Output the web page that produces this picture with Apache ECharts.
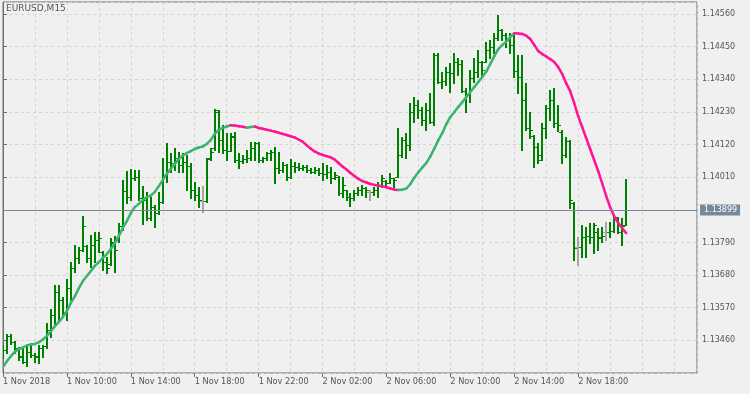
<!DOCTYPE html>
<html><head><meta charset="utf-8">
<script src="https://cdn.jsdelivr.net/npm/echarts@6/dist/echarts.min.js"></script>
<style>html,body{margin:0;padding:0;background:#f0f0f0}#c{width:750px;height:394px}</style>
</head><body><div id="c"></div>
<script>
const symbolName = 'EURUSD,M15';
// x positions are bar indices (15-minute bars starting 1 Nov 2018 06:00)
const tickIndex = [0, 16, 32, 48, 64, 80, 96, 112, 128, 144];
const tickLabels = ['1 Nov 2018', '1 Nov 10:00', '1 Nov 14:00', '1 Nov 18:00', '1 Nov 22:00',
  '2 Nov 02:00', '2 Nov 06:00', '2 Nov 10:00', '2 Nov 14:00', '2 Nov 18:00'];

const openP = [
1.13410,1.13427,1.13475,1.13454,1.13431,1.13407,1.13387,1.13421,1.13411,1.13404,
1.13434,1.13441,1.13495,1.13545,1.13623,1.13596,1.13556,1.13636,1.13704,1.13738,
1.13765,1.13778,1.13738,1.13781,1.13798,1.13758,1.13724,1.13717,1.13788,1.13798,
1.13845,1.13963,1.13943,1.14007,1.14011,1.13940,1.13933,1.13872,1.13909,1.13889,
1.13926,1.14017,1.14061,1.14058,1.14075,1.14051,1.14061,1.14048,1.13967,1.13950,
1.13930,1.13930,1.14075,1.14108,1.14230,1.14135,1.14102,1.14098,1.14145,1.14068,
1.14064,1.14071,1.14075,1.14108,1.14125,1.14068,1.14075,1.14091,1.14095,1.14041,
1.14034,1.14051,1.14011,1.14048,1.14044,1.14041,1.14044,1.14034,1.14027,1.14034,
1.14024,1.14021,1.14027,1.14007,1.14011,1.13957,1.13967,1.13943,1.13940,1.13957,
1.13967,1.13973,1.13960,1.13960,1.13967,1.13984,1.13997,1.13990,1.14007,1.14010,
1.14085,1.14135,1.14118,1.14230,1.14253,1.14236,1.14203,1.14236,1.14196,1.14422,
1.14331,1.14334,1.14365,1.14361,1.14398,1.14392,1.14300,1.14287,1.14344,1.14365,
1.14398,1.14398,1.14439,1.14449,1.14479,1.14506,1.14489,1.14472,1.14456,1.14368,
1.14348,1.14270,1.14176,1.14149,1.14112,1.14085,1.14176,1.14243,1.14270,1.14193,
1.14162,1.14085,1.14132,1.13923,1.13775,1.13775,1.13808,1.13812,1.13808,1.13825,
1.13808,1.13825,1.13825,1.13829,1.13876,1.13849,1.13849];

const highP = [
1.13444,1.13481,1.13481,1.13458,1.13438,1.13434,1.13441,1.13451,1.13417,1.13444,
1.13444,1.13518,1.13566,1.13646,1.13646,1.13606,1.13667,1.13724,1.13781,1.13775,
1.13879,1.13781,1.13815,1.13825,1.13825,1.13761,1.13741,1.13805,1.13812,1.13855,
1.14000,1.14031,1.14038,1.14034,1.14034,1.13980,1.13960,1.13943,1.13916,1.13960,
1.14075,1.14125,1.14091,1.14108,1.14095,1.14091,1.14085,1.14058,1.13994,1.13977,
1.13980,1.14075,1.14108,1.14240,1.14236,1.14186,1.14159,1.14159,1.14162,1.14091,
1.14085,1.14102,1.14129,1.14129,1.14128,1.14078,1.14095,1.14102,1.14112,1.14095,
1.14061,1.14054,1.14071,1.14061,1.14058,1.14051,1.14051,1.14041,1.14044,1.14041,
1.14058,1.14051,1.14044,1.14027,1.14014,1.14011,1.13967,1.13957,1.13967,1.13977,
1.13984,1.13977,1.13967,1.13977,1.13994,1.14017,1.14000,1.14024,1.14007,1.14176,
1.14145,1.14159,1.14260,1.14280,1.14270,1.14247,1.14260,1.14294,1.14429,1.14429,
1.14365,1.14381,1.14395,1.14429,1.14412,1.14405,1.14311,1.14371,1.14412,1.14439,
1.14402,1.14466,1.14472,1.14496,1.14557,1.14509,1.14496,1.14496,1.14496,1.14422,
1.14422,1.14327,1.14230,1.14152,1.14125,1.14193,1.14253,1.14304,1.14311,1.14253,
1.14169,1.14145,1.14135,1.13926,1.13808,1.13849,1.13842,1.13855,1.13855,1.13839,
1.13842,1.13859,1.13859,1.13882,1.13876,1.13872,1.14004];

const lowP = [
1.13400,1.13417,1.13448,1.13417,1.13394,1.13384,1.13373,1.13404,1.13387,1.13384,
1.13404,1.13434,1.13471,1.13512,1.13522,1.13545,1.13528,1.13596,1.13690,1.13721,
1.13761,1.13724,1.13707,1.13724,1.13758,1.13697,1.13687,1.13714,1.13690,1.13792,
1.13832,1.13923,1.13933,1.14000,1.13933,1.13852,1.13866,1.13866,1.13842,1.13886,
1.13923,1.13994,1.14027,1.14034,1.14027,1.14027,1.13967,1.13940,1.13933,1.13909,
1.13893,1.13926,1.14068,1.14102,1.14095,1.14091,1.14068,1.14098,1.14061,1.14041,
1.14058,1.14061,1.14068,1.14068,1.14061,1.14061,1.14068,1.14068,1.13990,1.14024,
1.14027,1.14000,1.14007,1.14027,1.14034,1.14034,1.14027,1.14024,1.14024,1.14017,
1.14000,1.14007,1.13990,1.14004,1.13950,1.13943,1.13933,1.13913,1.13933,1.13950,
1.13950,1.13943,1.13933,1.13950,1.13943,1.13977,1.13977,1.13990,1.13977,1.14010,
1.14078,1.14075,1.14102,1.14196,1.14209,1.14186,1.14169,1.14193,1.14186,1.14327,
1.14311,1.14321,1.14297,1.14327,1.14354,1.14297,1.14230,1.14263,1.14331,1.14348,
1.14348,1.14398,1.14412,1.14429,1.14472,1.14472,1.14449,1.14429,1.14348,1.14294,
1.14102,1.14169,1.14142,1.14044,1.14058,1.14068,1.14142,1.14203,1.14179,1.14166,
1.14058,1.14078,1.13906,1.13731,1.13714,1.13741,1.13741,1.13788,1.13754,1.13765,
1.13792,1.13798,1.13808,1.13825,1.13822,1.13781,1.13849];

const closeP = [
1.13427,1.13475,1.13454,1.13434,1.13404,1.13387,1.13421,1.13411,1.13407,1.13434,
1.13441,1.13495,1.13545,1.13623,1.13596,1.13556,1.13636,1.13704,1.13738,1.13765,
1.13845,1.13738,1.13781,1.13798,1.13805,1.13724,1.13704,1.13792,1.13765,1.13845,
1.13963,1.13943,1.14007,1.14011,1.13940,1.13933,1.13872,1.13909,1.13889,1.13926,
1.14017,1.14061,1.14058,1.14075,1.14051,1.14061,1.14048,1.13967,1.13950,1.13933,
1.13930,1.14071,1.14095,1.14236,1.14135,1.14102,1.14098,1.14149,1.14068,1.14064,
1.14071,1.14075,1.14108,1.14125,1.14068,1.14075,1.14091,1.14095,1.14041,1.14034,
1.14051,1.14011,1.14048,1.14044,1.14041,1.14044,1.14034,1.14027,1.14034,1.14024,
1.14021,1.14027,1.14007,1.14017,1.13957,1.13984,1.13943,1.13940,1.13957,1.13967,
1.13973,1.13967,1.13960,1.13967,1.13984,1.14007,1.13990,1.14007,1.14000,1.14085,
1.14135,1.14118,1.14230,1.14253,1.14236,1.14203,1.14236,1.14196,1.14422,1.14331,
1.14334,1.14365,1.14361,1.14398,1.14392,1.14300,1.14287,1.14344,1.14365,1.14398,
1.14371,1.14439,1.14449,1.14479,1.14506,1.14489,1.14472,1.14456,1.14368,1.14348,
1.14270,1.14176,1.14169,1.14112,1.14068,1.14176,1.14243,1.14270,1.14193,1.14186,
1.14085,1.14132,1.13933,1.13771,1.13775,1.13808,1.13812,1.13808,1.13849,1.13805,
1.13812,1.13825,1.13829,1.13876,1.13825,1.13845,1.13899];

const maValues = [
1.13370,1.13390,1.13407,1.13422,1.13431,1.13436,1.13443,1.13446,1.13448,1.13454,
1.13463,1.13475,1.13491,1.13508,1.13522,1.13539,1.13559,1.13586,1.13609,1.13636,
1.13660,1.13677,1.13694,1.13711,1.13724,1.13738,1.13751,1.13768,1.13788,1.13812,
1.13839,1.13862,1.13889,1.13909,1.13920,1.13933,1.13943,1.13948,1.13960,1.13980,
1.14000,1.14021,1.14038,1.14054,1.14071,1.14083,1.14091,1.14098,1.14105,1.14110,
1.14113,1.14122,1.14135,1.14156,1.14169,1.14176,1.14181,1.14185,1.14184,1.14182,
1.14180,1.14177,1.14179,1.14181,1.14176,1.14173,1.14170,1.14167,1.14164,1.14160,
1.14156,1.14152,1.14148,1.14144,1.14137,1.14130,1.14118,1.14107,1.14097,1.14090,
1.14085,1.14081,1.14077,1.14070,1.14058,1.14046,1.14036,1.14024,1.14014,1.14004,
1.13997,1.13992,1.13987,1.13984,1.13982,1.13979,1.13976,1.13972,1.13968,1.13967,
1.13968,1.13972,1.13987,1.14009,1.14027,1.14043,1.14058,1.14080,1.14107,1.14135,
1.14159,1.14189,1.14213,1.14230,1.14247,1.14263,1.14280,1.14297,1.14314,1.14331,
1.14348,1.14366,1.14392,1.14418,1.14442,1.14456,1.14467,1.14483,1.14495,1.14494,
1.14493,1.14487,1.14476,1.14456,1.14435,1.14425,1.14417,1.14408,1.14398,1.14381,
1.14358,1.14327,1.14300,1.14260,1.14216,1.14179,1.14142,1.14105,1.14068,1.14031,
1.13990,1.13947,1.13909,1.13879,1.13856,1.13839,1.13822];

const FONT = 'DejaVu Sans';
const TEXT_COLOR = '#555555';
const AXIS_COLOR = '#707070';
const GRID_COLOR = '#d4d4d4';
const X_MAX = 173.75;
const lastClose = closeP[closeP.length - 1];

const barData = openP.map((o, i) => [i, o, highP[i], lowP[i], closeP[i]]);
const maData = maValues.slice(1).map((v, k) => [k + 1, maValues[k], v]);

function renderBar(params, api) {
  const i = api.value(0);
  const o = api.value(1), h = api.value(2), l = api.value(3), c = api.value(4);
  const pH = api.coord([i, h]), pL = api.coord([i, l]);
  const pO = api.coord([i, o]), pC = api.coord([i, c]);
  const x = Math.round(pH[0]);
  const col = o === c ? '#a6a6a6' : '#008000';
  const yH = Math.round(pH[1]), yL = Math.round(pL[1]);
  return { type: 'group', children: [
    { type: 'rect', shape: { x: x - 1, y: yH, width: 2, height: Math.max(1, yL - yH + 1) }, style: { fill: col } },
    { type: 'rect', shape: { x: x - 3, y: Math.round(pO[1]), width: 2, height: 1 }, style: { fill: col } },
    { type: 'rect', shape: { x: x + 1, y: Math.round(pC[1]), width: 2, height: 1 }, style: { fill: col } }
  ]};
}

function renderMA(params, api) {
  const i = api.value(0), a = api.value(1), b = api.value(2);
  const p0 = api.coord([i - 1, a]), p1 = api.coord([i, b]);
  return { type: 'line', shape: { x1: p0[0], y1: p0[1], x2: p1[0], y2: p1[1] },
    style: { stroke: b >= a ? '#3cb371' : '#ff1493', lineWidth: 2.5, lineCap: 'round' } };
}

const chart = echarts.init(document.getElementById('c'), null, { renderer: 'canvas' });
chart.setOption({
  animation: false,
  backgroundColor: '#f0f0f0',
  title: { text: symbolName, left: 6, top: 4, padding: 0,
    textStyle: { fontSize: 9, fontWeight: 'normal', color: TEXT_COLOR, fontFamily: FONT } },
  grid: { left: 2, top: 2, right: 53, bottom: 21, show: true, borderColor: AXIS_COLOR, borderWidth: 1, backgroundColor: 'transparent' },
  xAxis: [
    { type: 'value', min: 0, max: X_MAX, position: 'bottom',
      axisLine: { show: false }, splitLine: { show: false },
      axisTick: { show: true, customValues: tickIndex, length: 4, lineStyle: { color: AXIS_COLOR } },
      axisLabel: { customValues: tickIndex, formatter: v => { const k = tickIndex.indexOf(Math.round(v)); return k >= 0 ? tickLabels[k] : ''; },
        align: 'left', margin: 5, color: TEXT_COLOR, fontSize: 8.2, fontFamily: FONT } },
    { type: 'value', min: 0, max: X_MAX, interval: 8, position: 'bottom',
      axisLine: { show: false }, axisTick: { show: false }, axisLabel: { show: false },
      splitLine: { show: true, lineStyle: { color: GRID_COLOR, type: [3, 3], width: 1 } } }
  ],
  yAxis: {
    type: 'value', position: 'right', min: 1.1335, max: 1.146005, interval: 0.0011, scale: true,
    axisLine: { show: true, lineStyle: { color: AXIS_COLOR } },
    axisTick: { show: true, length: 4, lineStyle: { color: AXIS_COLOR } },
    axisLabel: { margin: 5, color: TEXT_COLOR, fontSize: 8, fontFamily: FONT, showMinLabel: false, showMaxLabel: false,
      formatter: v => Math.abs(v - lastClose) < 0.0002 ? '' : v.toFixed(5) },
    splitLine: { show: true, lineStyle: { color: GRID_COLOR, type: [3, 3], width: 1 } }
  },
  series: [
    { type: 'line', data: [[0, lastClose]], symbol: 'none', lineStyle: { opacity: 0 }, silent: true,
      markLine: { silent: true, symbol: ['none', 'none'], animation: false, precision: 5,
        data: [[{ coord: [0, lastClose] }, { coord: [X_MAX, lastClose] }]],
        lineStyle: { color: '#778899', width: 1, type: 'solid' },
        label: { show: true, position: 'end', distance: 3, formatter: lastClose.toFixed(5),
          backgroundColor: '#778899', color: '#ffffff', fontSize: 8, fontFamily: FONT, padding: [2, 3, 1, 4] } } },
    { type: 'custom', renderItem: renderBar, data: barData, encode: { x: 0, y: [2, 3] }, clip: true, z: 3 },
    { type: 'custom', renderItem: renderMA, data: maData, encode: { x: 0, y: [1, 2] }, clip: true, z: 4 }
  ]
});
</script>
</body></html>
